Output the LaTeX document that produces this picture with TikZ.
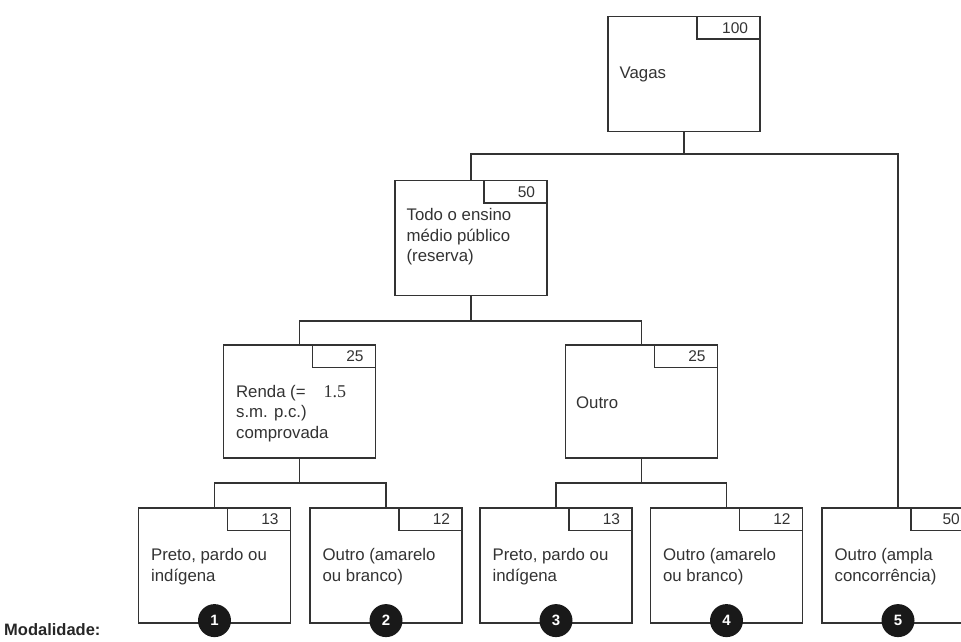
\documentclass[tikz,border=0pt]{standalone}
\usepackage{fontspec}
\setmainfont{Liberation Sans}
\newfontfamily\numserif{Liberation Serif}
\begin{document}
\begin{tikzpicture}[x=1pt,y=-1pt,
  line/.style={draw=black!80,line width=1.2pt},
  card/.style={line,fill=white,minimum width=152pt,minimum height=115pt,inner sep=0pt},
  qty/.style={line,fill=white,minimum width=63pt,minimum height=22.5pt,inner sep=0pt,
    anchor=north east,text width=39pt,align=right,font=\fontsize{15.5}{18}\selectfont,text=black!80},
  label/.style={anchor=west,align=left,inner sep=0pt,text=black!80,
    font=\fontsize{16.8}{20.5}\selectfont},
  badge/.style={circle,fill=black!90,minimum size=33pt,inner sep=0pt,text=white,
    font=\bfseries\fontsize{15}{15}\selectfont}
]
\useasboundingbox (0,0) rectangle (961,641);

% boxes
\node[card] (V)  at (684,74)    {};
\node[card] (P)  at (471,238)   {};
\node[card,minimum height=113pt] (R)  at (299.5,401.5) {};
\node[card,minimum height=113pt] (O)  at (641.5,401.5) {};
\node[card] (B1) at (214.5,565.5) {};
\node[card] (B2) at (386,565.5)   {};
\node[card] (B3) at (556,565.5)   {};
\node[card] (B4) at (726.5,565.5) {};
\node[card] (B5) at (898,565.5)   {};

% quantity tags in the upper right corners
\node[qty] (qV)  at (V.north east)  {100};
\node[qty] (qP)  at (P.north east)  {50};
\node[qty] (qR)  at (R.north east)  {25};
\node[qty] (qO)  at (O.north east)  {25};
\node[qty] (q1)  at (B1.north east) {13};
\node[qty] (q2)  at (B2.north east) {12};
\node[qty] (q3)  at (B3.north east) {13};
\node[qty] (q4)  at (B4.north east) {12};
\node[qty] (q5)  at (B5.north east) {};
\node[anchor=east,inner sep=0pt,text=black!80,font=\fontsize{15.5}{18}\selectfont]
  (q5n) at ([xshift=-1pt]q5.west -| 961,0) {50};

% labels
\node[label] (tV) at ([xshift=12pt]V.west) {Vagas};
\node[label] (tP) at ([xshift=12pt,yshift=1pt]P.west) {Todo o ensino\\médio público\\(reserva)};
\node[label] (tR) at ([xshift=13pt,yshift=-12pt]R.west) {Renda (=\hspace{18pt}{\numserif\fontsize{18}{20}\selectfont 1.5}\\s.m. p.c.)\\comprovada};
\node[label] (tO) at ([xshift=11pt,yshift=-1pt]O.west) {Outro};
\node[label] (t1) at ([xshift=13pt,yshift=-1pt]B1.west) {Preto, pardo ou\\indígena};
\node[label] (t2) at ([xshift=13pt,yshift=-1pt]B2.west) {Outro (amarelo\\ou branco)};
\node[label] (t3) at ([xshift=13pt,yshift=-1pt]B3.west) {Preto, pardo ou\\indígena};
\node[label] (t4) at ([xshift=13pt,yshift=-1pt]B4.west) {Outro (amarelo\\ou branco)};
\node[label] (t5) at ([xshift=13pt,yshift=-1pt]B5.west) {Outro (ampla\\concorrência)};

% connectors
\coordinate (j1) at (684,154);
\coordinate (j2) at (471,321);
\coordinate (j3) at (299.5,483);
\coordinate (j4) at (641.5,483);
\draw[line,line width=2.4pt] (V.south) -- (j1);
\draw[line] (j1) -| (P.north);
\draw[line] (j1) -| (B5.north);
\draw[line] (P.south) -- (j2);
\draw[line] (j2) -| (R.north);
\draw[line] (j2) -| (O.north);
\draw[line] (R.south) -- (j3);
\draw[line] (j3) -| (B1.north);
\draw[line] (j3) -| (B2.north);
\draw[line] (O.south) -- (j4);
\draw[line] (j4) -| (B3.north);
\draw[line] (j4) -| (B4.north);

% modality badges
\node[badge] (m1) at ([yshift=3pt]B1.south) {1};
\node[badge] (m2) at ([yshift=3pt]B2.south) {2};
\node[badge] (m3) at ([yshift=3pt]B3.south) {3};
\node[badge] (m4) at ([yshift=3pt]B4.south) {4};
\node[badge] (m5) at ([yshift=3pt]B5.south) {5};

\node[anchor=west,inner sep=0pt,text=black!85,font=\bfseries\fontsize{16.5}{18}\selectfont] (mod) at (4,630) {Modalidade:};
\end{tikzpicture}
\end{document}
